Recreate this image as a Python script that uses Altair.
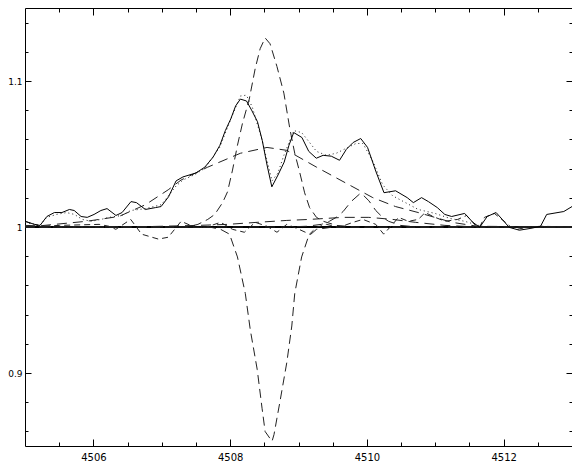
import altair as alt
import pandas as pd

# ---- axes ----
x_domain = [4505.0, 4513.0]
y_domain = [0.85, 1.15]
x_major = [4506, 4508, 4510, 4512]
x_minor = [4505.5, 4506.0, 4506.5, 4507.0, 4507.5, 4508.0, 4508.5, 4509.0,
           4509.5, 4510.0, 4510.5, 4511.0, 4511.5, 4512.0, 4512.5]
y_major = [0.9, 1.0, 1.1]
y_minor = [0.86, 0.88, 0.90, 0.92, 0.94, 0.96, 0.98, 1.00, 1.02, 1.04,
           1.06, 1.08, 1.10, 1.12, 1.14]

# ---- observed spectrum (solid) ----
obs_wl = [4505.00, 4505.14, 4505.22, 4505.32, 4505.43, 4505.54, 4505.65, 4505.72, 4505.82, 4505.91,
          4506.01, 4506.11, 4506.20, 4506.33, 4506.42, 4506.55, 4506.63, 4506.76, 4506.91, 4506.99,
          4507.10, 4507.21, 4507.31, 4507.50, 4507.63, 4507.75, 4507.85, 4507.93, 4508.01, 4508.08,
          4508.15, 4508.24, 4508.32, 4508.40, 4508.47, 4508.54, 4508.61, 4508.70, 4508.79, 4508.86,
          4508.93, 4509.05, 4509.15, 4509.26, 4509.36, 4509.48, 4509.60, 4509.70, 4509.80, 4509.91,
          4510.01, 4510.13, 4510.25, 4510.42, 4510.59, 4510.68, 4510.80, 4510.90, 4511.03, 4511.14,
          4511.24, 4511.43, 4511.55, 4511.65, 4511.76, 4511.89, 4511.98, 4512.08, 4512.23, 4512.40,
          4512.54, 4512.63, 4512.88, 4513.00]
obs_flux = [1.0039, 1.0018, 1.0011, 1.0072, 1.0099, 1.0099, 1.0120, 1.0113, 1.0072, 1.0066,
            1.0086, 1.0113, 1.0126, 1.0079, 1.0099, 1.0174, 1.0167, 1.0120, 1.0133, 1.0140,
            1.0207, 1.0316, 1.0343, 1.0370, 1.0410, 1.0478, 1.0559, 1.0660, 1.0741, 1.0829,
            1.0876, 1.0863, 1.0795, 1.0721, 1.0593, 1.0424, 1.0275, 1.0356, 1.0444, 1.0559,
            1.0647, 1.0613, 1.0518, 1.0471, 1.0491, 1.0485, 1.0457, 1.0532, 1.0579, 1.0606,
            1.0545, 1.0383, 1.0235, 1.0248, 1.0201, 1.0167, 1.0201, 1.0174, 1.0133, 1.0086,
            1.0072, 1.0093, 1.0032, 0.9998, 1.0072, 1.0099, 1.0052, 0.9998, 0.9978, 0.9991,
            1.0005, 1.0086, 1.0106, 1.0140]

# ---- total fit (dotted) ----
fit_wl = [4505.000, 4505.217, 4505.318, 4505.462, 4505.607, 4505.723, 4505.838, 4505.968, 4506.113,
          4506.228, 4506.416, 4506.546, 4506.763, 4506.994, 4507.211, 4507.312, 4507.500, 4507.630,
          4507.847, 4508.006, 4508.150, 4508.237, 4508.324, 4508.468, 4508.613, 4508.699, 4508.786,
          4508.931, 4509.046, 4509.162, 4509.263, 4509.408, 4509.552, 4509.697, 4509.841, 4509.942,
          4510.087, 4510.231, 4510.376, 4510.564, 4510.751, 4510.997, 4511.214, 4511.431, 4511.676,
          4511.864, 4513.000]
fit_flux = [1.0032, 1.0011, 1.0066, 1.0086, 1.0099, 1.0086, 1.0052, 1.0039, 1.0052,
            1.0066, 1.0079, 1.0113, 1.0126, 1.0153, 1.0282, 1.0322, 1.0363, 1.0403,
            1.0545, 1.0734, 1.0897, 1.0903, 1.0822, 1.0593, 1.0316, 1.0370, 1.0491,
            1.0660, 1.0647, 1.0579, 1.0518, 1.0491, 1.0505, 1.0539, 1.0572, 1.0572,
            1.0451, 1.0289, 1.0214, 1.0167, 1.0120, 1.0093, 1.0059, 1.0039, 1.0005,
            1.0000, 1.0000]

# ---- residuals (short dashes) ----
res_wl = [4505.000, 4505.217, 4505.506, 4506.084, 4506.228, 4506.329, 4506.546, 4506.705, 4506.951,
          4507.095, 4507.283, 4507.486, 4507.645, 4507.861, 4508.035, 4508.208, 4508.367, 4508.540,
          4508.685, 4508.829, 4508.974, 4509.162, 4509.263, 4509.408, 4509.595, 4509.798, 4509.942,
          4510.130, 4510.246, 4510.376, 4510.462, 4510.607, 4510.751, 4510.853, 4510.968, 4511.142,
          4511.329, 4511.459, 4511.575, 4511.647, 4511.720, 4511.864, 4512.009, 4512.110, 4512.197,
          4512.341, 4512.543, 4513.000]
res_flux = [1.0039, 1.0005, 1.0011, 1.0018, 1.0005, 0.9984, 1.0052, 0.9951, 0.9917,
            0.9930, 1.0039, 0.9998, 0.9998, 1.0032, 0.9984, 0.9964, 1.0032, 1.0005,
            0.9964, 1.0018, 0.9991, 0.9951, 0.9998, 1.0018, 0.9998, 1.0032, 1.0052,
            1.0018, 0.9951, 1.0018, 1.0066, 1.0039, 1.0052, 1.0099, 1.0072, 1.0039,
            1.0052, 1.0079, 1.0018, 0.9998, 1.0066, 1.0093, 1.0039, 0.9998, 0.9984,
            0.9998, 1.0005, 1.0000]

# ---- narrow emission component ----
em_wl = [4505.000, 4507.384, 4507.529, 4507.673, 4507.775, 4507.890, 4507.962, 4508.035, 4508.107,
         4508.179, 4508.280, 4508.367, 4508.439, 4508.512, 4508.584, 4508.685, 4508.786, 4508.873,
         4508.945, 4509.017, 4509.090, 4509.162, 4509.263, 4509.364, 4509.552, 4509.841, 4513.000]
em_flux = [1.0000, 1.0001, 1.0018, 1.0052, 1.0086, 1.0167, 1.0241, 1.0390, 1.0559,
           1.0707, 1.0876, 1.1086, 1.1221, 1.1295, 1.1255, 1.1099, 1.0917, 1.0674,
           1.0505, 1.0376, 1.0234, 1.0133, 1.0066, 1.0039, 1.0011, 1.0000, 1.0000]

# ---- narrow absorption component ----
ab_wl = [4505.000, 4507.529, 4507.717, 4507.861, 4507.991, 4508.107, 4508.222, 4508.295, 4508.396,
         4508.468, 4508.512, 4508.613, 4508.642, 4508.728, 4508.829, 4508.902, 4508.945, 4509.046,
         4509.147, 4509.263, 4509.480, 4513.000]
ab_flux = [1.0000, 0.9999, 0.9998, 0.9984, 0.9951, 0.9795, 0.9545, 0.9295, 0.9025,
           0.8755, 0.8599, 0.8532, 0.8579, 0.8802, 0.9072, 0.9322, 0.9545, 0.9795,
           0.9937, 0.9984, 0.9998, 1.0000]

# ---- broad emission component ----
br_wl = [4505.000, 4505.217, 4505.896, 4506.373, 4506.763, 4507.095, 4507.283, 4507.673, 4508.150,
         4508.540, 4508.829, 4509.263, 4509.740, 4510.087, 4510.419, 4510.751, 4511.243, 4511.618,
         4513.000]
br_flux = [1.0011, 1.0008, 1.0039, 1.0072, 1.0153, 1.0255, 1.0322, 1.0410, 1.0505,
           1.0545, 1.0525, 1.0410, 1.0289, 1.0201, 1.0140, 1.0099, 1.0032, 1.0005,
           1.0000]

# ---- small component near 4509.9 ----
sm_wl = [4505.000, 4508.829, 4509.118, 4509.335, 4509.451, 4509.552, 4509.653, 4509.769, 4509.913,
         4510.029, 4510.130, 4510.231, 4510.318, 4510.491, 4510.708, 4510.997, 4513.000]
sm_flux = [1.0000, 1.0000, 1.0005, 1.0018, 1.0039, 1.0066, 1.0106, 1.0174, 1.0234,
           1.0180, 1.0113, 1.0066, 1.0039, 1.0011, 1.0001, 1.0000, 1.0000]

# ---- low broad component ----
lb_wl = [4505.000, 4506.806, 4507.529, 4507.962, 4508.396, 4508.829, 4509.162, 4509.653, 4510.029,
         4510.376, 4510.708, 4511.142, 4511.575, 4513.000]
lb_flux = [1.0000, 1.0003, 1.0011, 1.0018, 1.0032, 1.0045, 1.0052, 1.0066, 1.0066,
           1.0052, 1.0032, 1.0011, 1.0001, 1.0000]

# ---- continuum ----
cont_wl = [4505.0, 4513.0]
cont_flux = [1.0, 1.0]

FONT = "DejaVu Sans"
xs = alt.Scale(domain=x_domain, nice=False, zero=False)
ys = alt.Scale(domain=y_domain, nice=False, zero=False)


def xaxis(orient, values, size, labels):
    # negative tick size given as an expression -> ticks point into the plot
    kw = dict(orient=orient, values=values, tickSize={"expr": str(-size)}, domain=False,
              grid=False, labels=labels, ticks=True, tickColor="black", tickWidth=1,
              title=None)
    if labels:
        kw.update(format="d", labelFont=FONT, labelFontSize=10, labelColor="black",
                  labelPadding=size + 6)
    return alt.Axis(**kw)


def yaxis(orient, values, size, labels):
    kw = dict(orient=orient, values=values, tickSize={"expr": str(-size)}, domain=False,
              grid=False, labels=labels, ticks=True, tickColor="black", tickWidth=1,
              title=None)
    if labels:
        kw.update(format="~g", labelFont=FONT, labelFontSize=9, labelColor="black",
                  labelPadding=size + 3)
    return alt.Axis(**kw)


def line(wl, fl, width=1.0, dash=None, color="black", xa=None, ya=None):
    df = pd.DataFrame({"wl": wl, "flux": fl})
    mk = dict(clip=True, color=color, strokeWidth=width)
    if dash is not None:
        mk["strokeDash"] = dash
    return alt.Chart(df).mark_line(**mk).encode(
        x=alt.X("wl:Q", scale=xs, axis=xa),
        y=alt.Y("flux:Q", scale=ys, axis=ya),
    )


layers = [
    line(cont_wl, cont_flux, width=2.0,
         xa=xaxis("bottom", x_major, 7, True), ya=yaxis("left", y_major, 6, True)),
    line(lb_wl, lb_flux, dash=[10, 6], color="#222",
         xa=xaxis("bottom", x_minor, 4, False), ya=yaxis("left", y_minor, 3, False)),
    line(br_wl, br_flux, dash=[10, 6], color="#222",
         xa=xaxis("top", x_major, 7, False), ya=yaxis("right", y_major, 6, False)),
    line(sm_wl, sm_flux, dash=[10, 6], color="#222",
         xa=xaxis("top", x_minor, 4, False), ya=yaxis("right", y_minor, 3, False)),
    line(em_wl, em_flux, dash=[9, 5], color="#222"),
    line(ab_wl, ab_flux, dash=[9, 5], color="#222"),
    line(res_wl, res_flux, dash=[6, 4], color="#222"),
    line(fit_wl, fit_flux, dash=[1, 3], color="#222"),
    line(obs_wl, obs_flux, width=1.0, color="black"),
]

chart = alt.layer(*layers).resolve_axis(x="independent", y="independent").properties(
    width=547,
    height=438,
    autosize=alt.AutoSizeParams(type="none"),
    padding={"left": 17, "top": 0, "right": 0, "bottom": 15},
    background="white",
).configure_view(stroke="black", strokeWidth=1)

chart.save("out.html", embed_options={"renderer": "svg", "actions": False})
